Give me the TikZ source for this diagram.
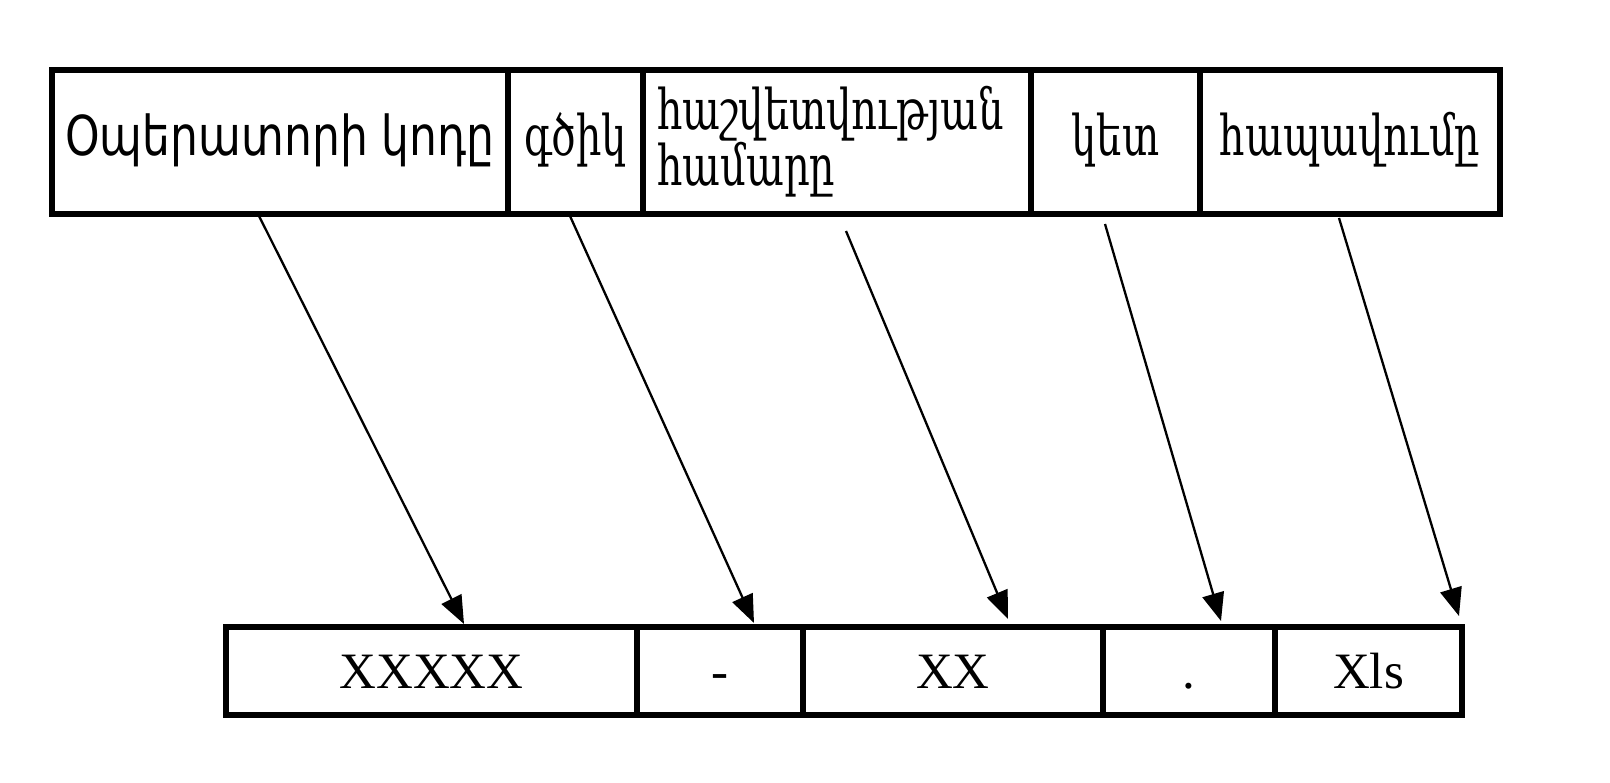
\documentclass[tikz,border=0pt]{standalone}
\usepackage{fontspec}
\setmainfont{Liberation Serif}
\newfontfamily\armsans{DejaVu Sans}
\newfontfamily\armserif{DejaVu Serif}
\usetikzlibrary{arrows.meta,calc}
\newcommand{\tallsans}[1]{\scalebox{1}[1.25]{#1}}
\newcommand{\tallserif}[1]{\scalebox{1}[1.4]{#1}}
\tikzset{
  cell/.style={draw, line width=5.5pt, rectangle, inner sep=0pt, outer sep=0pt, anchor=center},
  topcell/.style={cell, minimum height=144pt, font=\armserif\fontsize{40}{54}\selectfont},
  linecell/.style={text height=34pt, text depth=6pt},
  botcell/.style={cell, minimum height=88pt, text height=35pt, text depth=1pt, font=\fontsize{51}{60}\selectfont},
  conn/.style={line width=2.3pt, -{Triangle[length=28pt,width=22pt]}}
}
\begin{document}
\begin{tikzpicture}[x=1pt,y=-1pt]
\useasboundingbox (0,0) rectangle (1610,783);
% top row: 52,508,643,1031,1200,1500 ; y 70..214
\node[topcell, linecell, minimum width=456pt, font=\armsans\fontsize{44}{50}\selectfont] (op) at (280,142) {\tallsans{Օպերատորի կոդը}};
\node[topcell, linecell, minimum width=135pt] (dash) at (575.5,142) {\tallserif{գծիկ}};
\node[topcell, minimum width=388pt, text width=360pt, inner xsep=14pt, align=left] (num) at (837,142) {\tallserif{հաշվետվության}\\\tallserif{համարը}};
\node[topcell, linecell, minimum width=169pt] (dot) at (1115.5,142) {\tallserif{կետ}};
\node[topcell, linecell, minimum width=300pt] (abbr) at (1350,142) {\tallserif{հապավումը}};
% bottom row: 226,637,803,1103,1275,1462 ; y 627..715
\node[botcell, minimum width=411pt] (b1) at (431.5,671) {XXXXX};
\node[botcell, minimum width=166pt] (b2) at (720,671) {-};
\node[botcell, minimum width=300pt] (b3) at (953,671) {XX};
\node[botcell, minimum width=172pt] (b4) at (1189,671) {.};
\node[botcell, minimum width=187pt] (b5) at (1368.5,671) {Xls};
% connectors
\draw[conn] ([xshift=-21pt,yshift=-2pt]op.south) -- ([xshift=32.5pt,yshift=3pt]b1.north);
\draw[conn] ([xshift=-5.5pt,yshift=-2pt]dash.south) -- ([xshift=34pt,yshift=4pt]b2.north);
\draw[conn] ([xshift=9pt,yshift=-17pt]num.south) -- ([xshift=55pt,yshift=8pt]b3.north);
\draw[conn] ([xshift=-10.5pt,yshift=-10pt]dot.south) -- ([xshift=32pt,yshift=6pt]b4.north);
\draw[conn] ([xshift=-11pt,yshift=-4pt]abbr.south) -- ([xshift=90.5pt,yshift=11pt]b5.north);
\end{tikzpicture}
\end{document}
